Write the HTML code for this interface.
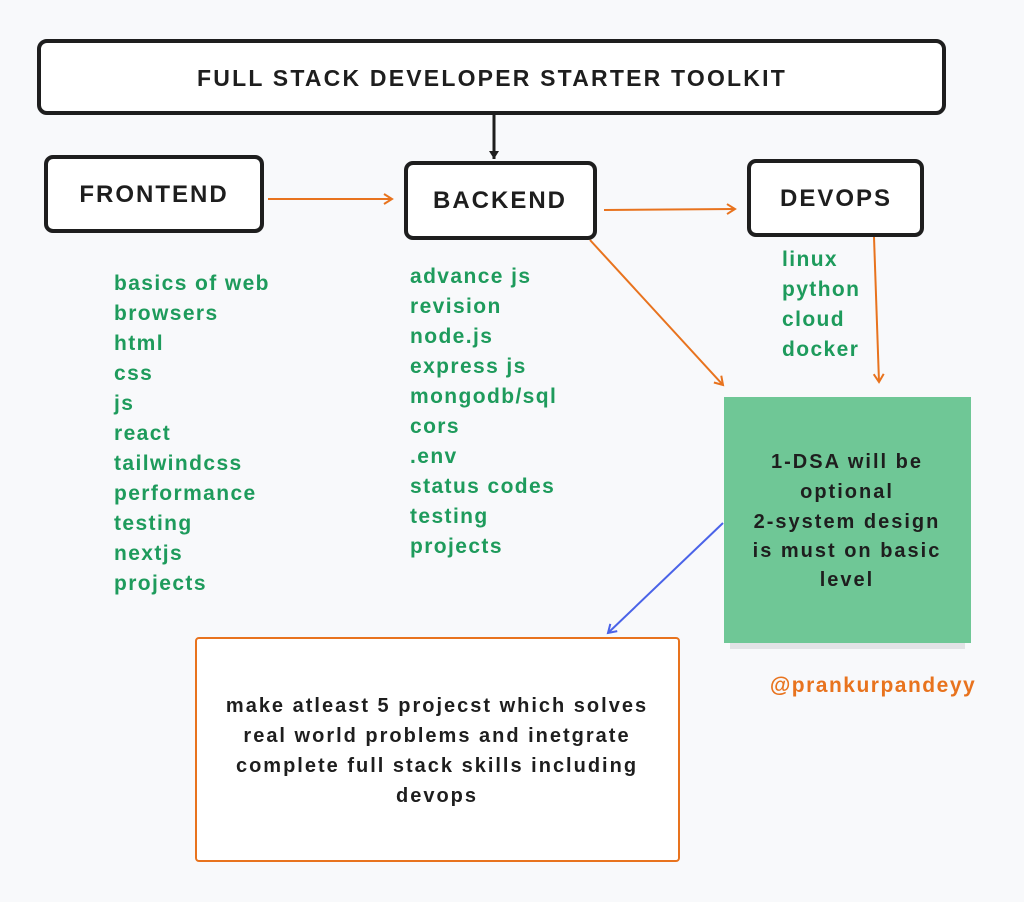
<!DOCTYPE html>
<html><head><meta charset="utf-8"><style>
html,body{margin:0;padding:0;background:#f8f9fb;}
svg{display:block}
text{font-family:"Liberation Sans","DejaVu Sans",sans-serif;}
.g{fill:#1e9b5c;font-size:21px;font-weight:bold;letter-spacing:1.4px;}
.h{fill:#1e1e1e;font-size:24px;font-weight:bold;letter-spacing:2px;}
.b{fill:#1e1e1e;font-size:20px;font-weight:bold;letter-spacing:2px;}
</style></head><body>
<svg width="1024" height="902" viewBox="0 0 1024 902">
<defs>
<marker id="ao" markerWidth="12" markerHeight="12" refX="9" refY="6" orient="auto" markerUnits="userSpaceOnUse"><path d="M1,1 L9,6 L1,11" fill="none" stroke="#e8731e" stroke-width="2"/></marker>
<marker id="ab" markerWidth="12" markerHeight="12" refX="9" refY="6" orient="auto" markerUnits="userSpaceOnUse"><path d="M1,1 L9,6 L1,11 Z" fill="#1e1e1e"/></marker>
<marker id="al" markerWidth="12" markerHeight="12" refX="9" refY="6" orient="auto" markerUnits="userSpaceOnUse"><path d="M1,1 L9,6 L1,11" fill="none" stroke="#4a63e8" stroke-width="2"/></marker>
</defs>
<rect width="1024" height="902" fill="#f8f9fb"/>
<rect x="39" y="41" width="905" height="72" rx="8" fill="#fff" stroke="#1e1e1e" stroke-width="4"/>
<text x="492" y="86" text-anchor="middle" class="h" style="font-size:23px;letter-spacing:2.2px">FULL STACK DEVELOPER STARTER TOOLKIT</text>
<line x1="494" y1="114" x2="494" y2="159" stroke="#1e1e1e" stroke-width="3" marker-end="url(#ab)"/>
<rect x="46" y="157" width="216" height="74" rx="7" fill="#fff" stroke="#1e1e1e" stroke-width="4"/>
<text x="154" y="202" text-anchor="middle" class="h">FRONTEND</text>
<rect x="406" y="163" width="189" height="75" rx="7" fill="#fff" stroke="#1e1e1e" stroke-width="4"/>
<text x="500" y="208" text-anchor="middle" class="h">BACKEND</text>
<rect x="749" y="161" width="173" height="74" rx="7" fill="#fff" stroke="#1e1e1e" stroke-width="4"/>
<text x="836" y="206" text-anchor="middle" class="h">DEVOPS</text>
<line x1="268" y1="199" x2="392" y2="199" stroke="#e8731e" stroke-width="2" marker-end="url(#ao)"/>
<line x1="604" y1="210" x2="735" y2="209" stroke="#e8731e" stroke-width="2" marker-end="url(#ao)"/>
<line x1="590" y1="240" x2="723" y2="385" stroke="#e8731e" stroke-width="2" marker-end="url(#ao)"/>
<line x1="874" y1="237" x2="879" y2="382" stroke="#e8731e" stroke-width="2" marker-end="url(#ao)"/>
<line x1="723" y1="523" x2="608" y2="633" stroke="#4a63e8" stroke-width="2" marker-end="url(#al)"/>
<g class="g">
<text x="114" y="290">basics of web</text><text x="114" y="320">browsers</text><text x="114" y="350">html</text><text x="114" y="380">css</text><text x="114" y="410">js</text><text x="114" y="440">react</text><text x="114" y="470">tailwindcss</text><text x="114" y="500">performance</text><text x="114" y="530">testing</text><text x="114" y="560">nextjs</text><text x="114" y="590">projects</text>
<text x="410" y="283">advance js</text><text x="410" y="313">revision</text><text x="410" y="343">node.js</text><text x="410" y="373">express js</text><text x="410" y="403">mongodb/sql</text><text x="410" y="433">cors</text><text x="410" y="463">.env</text><text x="410" y="493">status codes</text><text x="410" y="523">testing</text><text x="410" y="553">projects</text>
<text x="782" y="266">linux</text><text x="782" y="296">python</text><text x="782" y="326">cloud</text><text x="782" y="356">docker</text>
</g>
<rect x="730" y="403" width="235" height="246" fill="#e2e3e6"/>
<rect x="724" y="397" width="247" height="246" fill="#6fc796"/>
<g class="b" text-anchor="middle">
<text x="847" y="468">1-DSA will be</text><text x="847" y="498">optional</text><text x="847" y="528">2-system design</text><text x="847" y="557">is must on basic</text><text x="847" y="586">level</text>
</g>
<text x="873" y="692" text-anchor="middle" style="fill:#e8731e;font-size:21px;font-weight:bold;letter-spacing:1.5px">@prankurpandeyy</text>
<rect x="196" y="638" width="483" height="223" rx="3" fill="#fff" stroke="#e8731e" stroke-width="2"/>
<g class="b" text-anchor="middle">
<text x="437" y="712">make atleast 5 projecst which solves</text><text x="437" y="742">real world problems and inetgrate</text><text x="437" y="772">complete full stack skills including</text><text x="437" y="802">devops</text>
</g>
</svg>
</body></html>
